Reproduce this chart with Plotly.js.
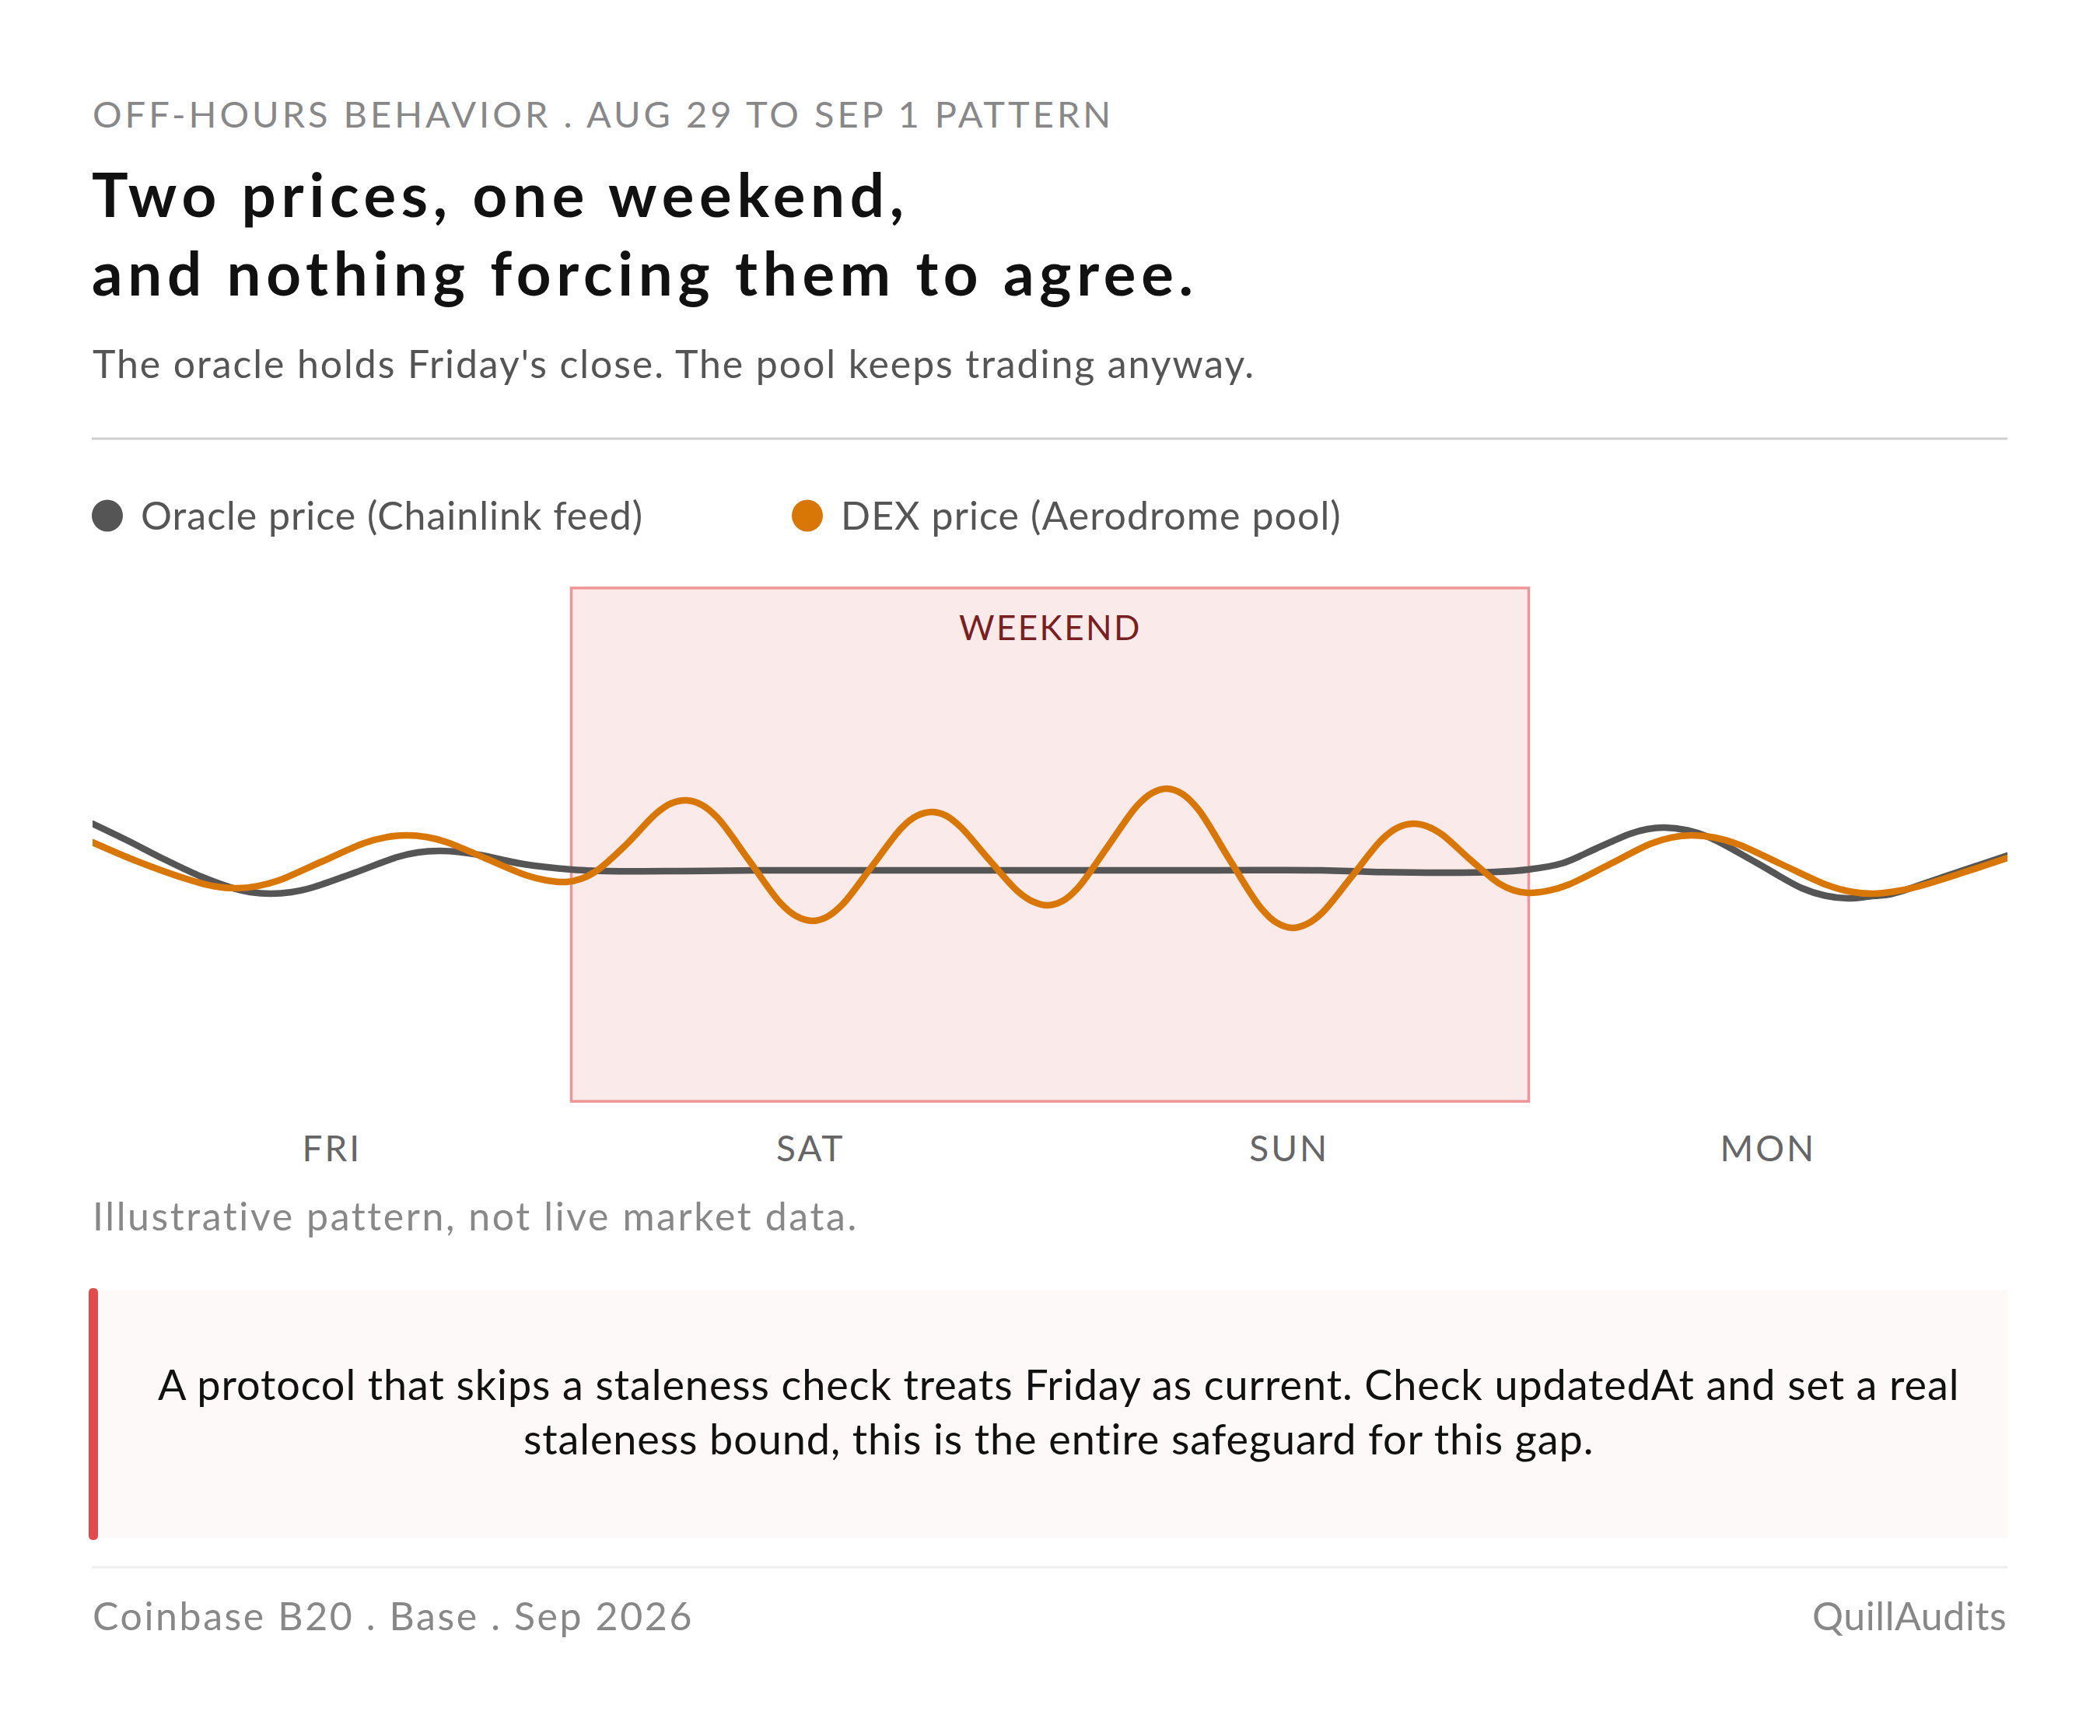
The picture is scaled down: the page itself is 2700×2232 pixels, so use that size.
<!DOCTYPE html>
<html>
<head>
<meta charset="utf-8">
<script src="https://cdn.plot.ly/plotly-3.0.1.min.js"></script>
<style>
  html, body { margin: 0; padding: 0; background: #fff; }
  #chart { width: 2700px; height: 2232px; }
  .js-line { stroke-linecap: round; }
  .xtick text { letter-spacing: 3px; }
</style>
</head>
<body>
<div id="chart"></div>
<script>
// hours since Friday 00:00, price as deviation from Friday's close
const oracleHours  = [0, 1.7, 3.45, 5.44, 7.18, 7.9, 8.92, 9.98, 11.03, 13.15, 15.27, 16.3, 17.38, 18.4, 19.37, 21.6, 24.02, 25.83, 29.56, 33.29, 40, 48, 56, 61.64, 64.13, 67.86, 70.35, 71.96, 73.67, 75.38, 77.09, 77.95, 78.8, 79.95, 81.1, 83.4, 85.7, 86.85, 88, 89.1, 90.24, 92.73, 96];
const oracleValues = [6, 3.9, 1.6, -0.8, -2.4, -2.8, -3, -2.8, -2.2, -0.3, 1.7, 2.3, 2.5, 2.35, 2, 0.8, 0.1, -0.1, -0.1, 0, 0, 0, 0, 0, -0.2, -0.3, -0.2, 0.1, 0.9, 2.8, 4.7, 5.3, 5.5, 5.15, 4.2, 1, -2.3, -3.25, -3.6, -3.35, -3, -0.9, 1.9];

const dexHours  = [0, 2.2, 4.7, 6.1, 7.18, 8.25, 9.33, 11.47, 13.62, 14.69, 15.76, 16.76, 17.75, 19.74, 21.73, 22.72, 23.72, 24.48, 25.25, 26.75, 28.25, 29, 29.76, 30.55, 31.34, 32.92, 34.5, 35.29, 36.08, 36.83, 37.57, 39.07, 40.56, 41.3, 42.05, 42.78, 43.51, 44.97, 46.43, 47.16, 47.89, 48.64, 49.38, 50.88, 52.37, 53.11, 53.86, 54.64, 55.43, 57, 58.56, 59.35, 60.13, 60.89, 61.65, 63.16, 64.67, 65.43, 66.19, 66.91, 67.63, 69.08, 70.52, 71.24, 71.96, 72.99, 74.01, 76.07, 78.12, 79.14, 80.17, 81.3, 82.44, 84.7, 86.97, 88.1, 89.24, 90.4, 91.5, 94, 96];
const dexValues = [3.6, 1.2, -1.1, -2.05, -2.3, -2.04, -1.31, 1.1, 3.51, 4.24, 4.5, 4.27, 3.62, 1.5, -0.62, -1.27, -1.5, -1.1, -0.1, 3.3, 7.3, 8.6, 9, 8.41, 6.74, 1.25, -4.24, -5.91, -6.5, -5.97, -4.46, 0.5, 5.46, 6.97, 7.5, 7.04, 5.6, 1.3, -2.8, -4.04, -4.5, -3.93, -2.31, 3, 8.31, 9.93, 10.5, 9.82, 7.85, 1.4, -4.8, -6.72, -7.4, -6.89, -5.44, -0.7, 4.04, 5.49, 6, 5.66, 4.65, 1.35, -1.7, -2.56, -2.9, -2.62, -1.82, 0.8, 3.42, 4.22, 4.5, 4.22, 3.4, 0.75, -1.9, -2.72, -3, -2.7, -2.1, -0.1, 1.6];

const dayTicks  = [12, 36, 60, 84];
const dayLabels = ['FRI', 'SAT', 'SUN', 'MON'];
const weekend   = [24, 72];

const FONT = 'Lato, "Open Sans", sans-serif';
const W = 2700, H = 2232;
const plot = { l: 119, r: 2581, t: 756, b: 1416 };

// page pixels -> paper coordinates
const px = x => (x - plot.l) / (plot.r - plot.l);
const py = y => (plot.b - y) / (plot.b - plot.t);

// the hand lettering of the reference runs wider than Lato, so track each text out
const track = (text, n) => text.split('<br>').map(t => `<span style="letter-spacing:${n}px">${t}</span>`).join('<br>');

function label(text, x, y, size, color, spacing, anchor) {
  return {
    text: track(text, spacing), x: px(x), y: py(y), xref: 'paper', yref: 'paper',
    xanchor: anchor || 'left', yanchor: 'middle', align: 'center',
    showarrow: false, borderpad: 0,
    font: { family: FONT, size, color }
  };
}

function rule(y, color, width) {
  return {
    type: 'line', xref: 'paper', yref: 'paper', layer: 'below',
    x0: px(118), x1: px(2581), y0: py(y), y1: py(y),
    line: { color, width }
  };
}

function dot(cx, cy, color) {
  return {
    type: 'circle', xref: 'paper', yref: 'paper', fillcolor: color,
    x0: px(cx - 20), x1: px(cx + 20), y0: py(cy - 20.5), y1: py(cy + 20.5),
    line: { width: 0 }
  };
}

const barPath = () => {
  const l = px(114), r = px(126), t = py(1656), b = py(1980);
  const rx = px(120) - l, ry = py(1656) - py(1662);
  return `M ${l} ${t - ry} Q ${l} ${t} ${l + rx} ${t} Q ${r} ${t} ${r} ${t - ry} ` +
         `L ${r} ${b + ry} Q ${r} ${b} ${l + rx} ${b} Q ${l} ${b} ${l} ${b + ry} Z`;
};

const traces = [
  {
    name: 'Oracle price (Chainlink feed)', x: oracleHours, y: oracleValues,
    type: 'scatter', mode: 'lines', cliponaxis: false,
    line: { color: '#555555', width: 8.5, shape: 'spline', smoothing: 1, simplify: false }
  },
  {
    name: 'DEX price (Aerodrome pool)', x: dexHours, y: dexValues,
    type: 'scatter', mode: 'lines', cliponaxis: false,
    line: { color: '#D97706', width: 8.5, shape: 'spline', smoothing: 1, simplify: false }
  }
];

const layout = {
  width: W, height: H,
  paper_bgcolor: '#ffffff', plot_bgcolor: 'rgba(0,0,0,0)',
  margin: { l: plot.l, r: W - plot.r, t: plot.t, b: H - plot.b, pad: 0 },
  showlegend: false,
  title: {
    text: track('Two prices, one weekend,<br>and nothing forcing them to agree.', 6.7),
    x: 118 / W, xanchor: 'left', xref: 'container',
    y: 1 - 279 / H, yanchor: 'top', yref: 'container',
    font: { family: FONT, size: 78, color: '#111111', weight: 700 }
  },
  xaxis: {
    range: [0, 96], tickmode: 'array', tickvals: dayTicks, ticktext: dayLabels,
    showgrid: false, zeroline: false, showline: false,
    ticks: 'outside', ticklen: 21, tickcolor: 'rgba(0,0,0,0)',
    tickfont: { family: FONT, size: 46, color: '#666666' }
  },
  yaxis: { range: [-29.7, 36.3], visible: false },
  shapes: [
    {
      type: 'rect', xref: 'x', yref: 'paper', layer: 'below',
      x0: weekend[0], x1: weekend[1], y0: 0, y1: 1,
      fillcolor: '#FBEAEA', line: { color: '#F09595', width: 3.5 }
    },
    rule(564, '#d0d0d0', 3),
    rule(2015, '#eeeeee', 3),
    {
      type: 'rect', xref: 'paper', yref: 'paper', layer: 'below',
      x0: px(118), x1: px(2581), y0: py(1659), y1: py(1977),
      fillcolor: '#FEF9F9', line: { width: 0 }
    },
    { type: 'path', xref: 'paper', yref: 'paper', path: barPath(), fillcolor: '#E24B4A', line: { width: 0 } },
    dot(138, 663, '#555555'),
    dot(1038, 663, '#D97706')
  ],
  annotations: [
    label('OFF-HOURS BEHAVIOR . AUG 29 TO SEP 1 PATTERN', 118, 146, 47, '#888888', 4),
    label('The oracle holds Friday\'s close. The pool keeps trading anyway.', 118, 467, 50, '#555555', 1.9),
    label('Oracle price (Chainlink feed)', 180, 662, 50, '#555555', 1),
    label('DEX price (Aerodrome pool)', 1080, 662, 50, '#555555', 1.1),
    label('WEEKEND', 1350, 806, 44, '#791F1F', 2.4, 'center'),
    label('Illustrative pattern, not live market data.', 118, 1563, 50, '#888888', 2.6),
    label('A protocol that skips a staleness check treats Friday as current. Check updatedAt and set a real<br>staleness bound, this is the entire safeguard for this gap.', 1361, 1814, 54, '#111111', 0.9, 'center'),
    label('Coinbase B20 . Base . Sep 2026', 118, 2077, 50, '#888888', 2.6),
    label('QuillAudits', 2581, 2077, 50, '#888888', 0.6, 'right')
  ]
};

Plotly.newPlot('chart', traces, layout, { displayModeBar: false, staticPlot: true });
</script>
</body>
</html>
